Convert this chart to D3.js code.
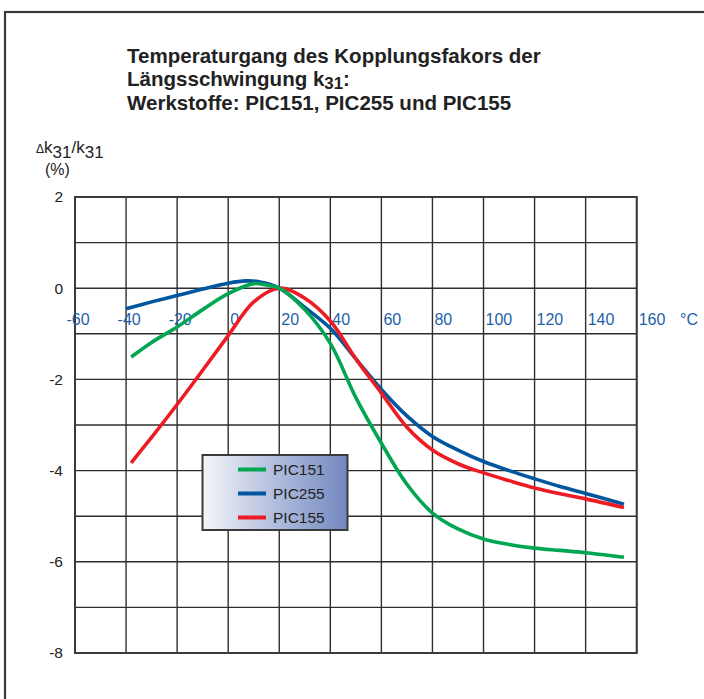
<!DOCTYPE html>
<html><head><meta charset="utf-8">
<script src="https://cdn.jsdelivr.net/npm/d3@7"></script>
<style>body{margin:0;background:#fff}svg{display:block}</style>
</head><body>
<svg id="chart" width="704" height="699"></svg>
<script>
// ---- data ----
const titleLines = ["Temperaturgang des Kopplungsfakors der", "Längsschwingung k", "Werkstoffe: PIC151, PIC255 und PIC155"];
const xTicks = [-60, -40, -20, 0, 20, 40, 60, 80, 100, 120, 140, 160];
const yTicks = [2, 0, -2, -4, -6, -8];
const seriesNames = ["PIC151", "PIC255", "PIC155"];
const seriesColors = ["#00a651", "#00569f", "#ed1c24"];

const pic151T = [-38, -30, -20, -10, 0, 10, 15, 20, 30, 40, 50, 60, 70, 80, 90, 100, 110, 120, 130, 140, 155];
const pic151V = [-1.51, -1.19, -0.85, -0.47, -0.12, 0.10, 0.07, 0.0, -0.47, -1.21, -2.4, -3.4, -4.3, -4.93, -5.28, -5.5, -5.62, -5.7, -5.75, -5.8, -5.9];

const pic255T = [-40, -30, -20, -10, 0, 7, 12, 20, 30, 40, 50, 60, 70, 80, 90, 100, 110, 120, 130, 140, 155];
const pic255V = [-0.45, -0.30, -0.16, -0.02, 0.11, 0.16, 0.14, 0.0, -0.42, -0.88, -1.55, -2.22, -2.8, -3.25, -3.55, -3.8, -4.0, -4.18, -4.35, -4.5, -4.74];

const pic155T = [-38, -30, -20, -10, 0, 10, 20, 30, 40, 50, 60, 70, 80, 90, 100, 110, 120, 130, 140, 155];
const pic155V = [-3.83, -3.27, -2.55, -1.8, -1.04, -0.3, 0.0, -0.22, -0.72, -1.55, -2.3, -3.05, -3.55, -3.85, -4.05, -4.22, -4.38, -4.51, -4.62, -4.81];

const seriesT = [pic151T, pic255T, pic155T];
const seriesV = [pic151V, pic255V, pic155V];

// ---- layout ----
const svg = d3.select("#chart");
const font = "'Liberation Sans', Arial, sans-serif";
const L = 75, R = 636.7, T = 197, B = 653;
const x = d3.scaleLinear().domain([-60, 160]).range([L, R]);
const y = d3.scaleLinear().domain([-8, 2]).range([B, T]);

// outer frame
svg.append("rect").attr("x", 5).attr("y", 12).attr("width", 740).attr("height", 740)
  .attr("fill", "none").attr("stroke", "#3a3a3a").attr("stroke-width", 2.2);

// title
const title = svg.append("g").attr("font-family", font).attr("font-weight", "bold").attr("fill", "#222");
const t1 = title.append("text").attr("x", 127).attr("y", 63).attr("font-size", 17).text(titleLines[0]);
const w = t1.node().getComputedTextLength();
const fs = 17 * 414 / w;
t1.attr("font-size", fs);
const t2 = title.append("text").attr("x", 127).attr("y", 86).attr("font-size", fs);
t2.append("tspan").text(titleLines[1]);
t2.append("tspan").attr("dy", 2.5).attr("font-size", fs * 0.82).text("31");
t2.append("tspan").attr("dy", -2.5).text(":");
title.append("text").attr("x", 127).attr("y", 110).attr("font-size", fs).text(titleLines[2]);

// y axis title
const yl = svg.append("text").attr("x", 36).attr("y", 153).attr("font-family", font).attr("font-size", 17).attr("fill", "#222");
yl.append("tspan").attr("font-size", 12).text("Δ");
yl.append("tspan").text("k");
yl.append("tspan").attr("dy", 5).text("31");
yl.append("tspan").attr("dy", -5).text("/k");
yl.append("tspan").attr("dy", 5).text("31");
svg.append("text").attr("x", 45).attr("y", 175).attr("font-family", font).attr("font-size", 16).attr("fill", "#222").text("(%)");

// grid
const grid = svg.append("g").attr("stroke", "#2e2e2e").attr("stroke-width", 1.4);
grid.selectAll("line.v").data(xTicks).join("line")
  .attr("x1", d => x(d)).attr("x2", d => x(d)).attr("y1", T).attr("y2", B);
grid.selectAll("line.h").data(d3.range(-8, 3, 1)).join("line").attr("class", "h")
  .attr("x1", L).attr("x2", R).attr("y1", d => y(d)).attr("y2", d => y(d));
svg.append("rect").attr("x", L).attr("y", T).attr("width", R - L).attr("height", B - T)
  .attr("fill", "none").attr("stroke", "#3a3a3a").attr("stroke-width", 2);

// y tick labels
svg.append("g").selectAll("text").data(yTicks).join("text")
  .attr("x", 63).attr("y", d => y(d)).attr("dy", "0.35em")
  .attr("text-anchor", "end").attr("font-family", font).attr("font-size", 15.5).attr("fill", "#222")
  .text(d => d);

// x tick labels
const xl = svg.append("g").attr("font-family", font).attr("font-size", 16).attr("fill", "#1f5fa8");
xl.selectAll("text").data(xTicks).join("text")
  .attr("x", d => x(d) + (d < 0 ? -8.5 : 2)).attr("y", 325)
  .text(d => d);
xl.append("text").attr("x", 680).attr("y", 325).text("°C");

// curves
const line = d3.line().curve(d3.curveCatmullRom.alpha(0.5)).x(d => x(d[0])).y(d => y(d[1]));
[1, 2, 0].forEach(i => {
  const pts = seriesT[i].map((t, k) => [t, seriesV[i][k]]);
  svg.append("path").datum(pts).attr("d", line)
    .attr("fill", "none").attr("stroke", seriesColors[i]).attr("stroke-width", 3.6);
});

// legend
const defs = svg.append("defs");
const grad = defs.append("linearGradient").attr("id", "lg").attr("x1", "0%").attr("x2", "100%");
grad.append("stop").attr("offset", "0%").attr("stop-color", "#f4f5fa");
grad.append("stop").attr("offset", "100%").attr("stop-color", "#7187bf");
const lg = svg.append("g");
lg.append("rect").attr("x", 202.5).attr("y", 455).attr("width", 145).attr("height", 75)
  .attr("fill", "url(#lg)").attr("stroke", "#3a3a3a").attr("stroke-width", 2);
const ly = d3.scalePoint().domain(seriesNames).range([469.5, 517.5]);
seriesNames.forEach((n, i) => {
  lg.append("line").attr("x1", 238).attr("x2", 266).attr("y1", ly(n)).attr("y2", ly(n))
    .attr("stroke", seriesColors[i]).attr("stroke-width", 4);
  lg.append("text").attr("x", 273).attr("y", ly(n)).attr("dy", "0.36em")
    .attr("font-family", font).attr("font-size", 15.5).attr("fill", "#222").text(n);
});
</script>
</body></html>
